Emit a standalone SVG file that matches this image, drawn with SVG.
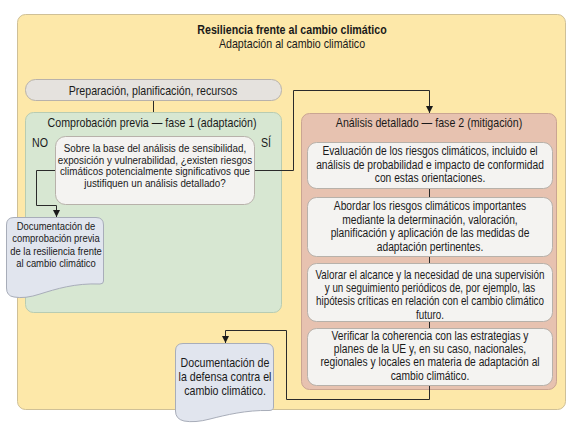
<svg xmlns="http://www.w3.org/2000/svg" width="585" height="439" viewBox="0 0 585 439">
<defs>
<style>
text{font-family:"Liberation Sans",Arial,sans-serif;fill:#1a1a1a;text-anchor:middle;}
.t13{font-size:13px;}
.t12{font-size:12px;}
.t125{font-size:12.5px;}
.t115{font-size:11.5px;}
.b{font-weight:bold;}
.box{fill:#f4f3f1;stroke:#b7b1aa;stroke-width:1;}
.doc{fill:#e1e5ee;stroke:#a8adb9;stroke-width:1;}
.conn{fill:none;stroke:#2a2a2a;stroke-width:1;}
</style>
<marker id="arr" viewBox="0 0 10 10" refX="10" refY="5" markerWidth="7" markerHeight="7" markerUnits="userSpaceOnUse" orient="auto">
<path d="M0,0 L10,5 L0,10 Z" fill="#1a1a1a"/>
</marker>
</defs>
<rect width="585" height="439" fill="#ffffff"/>
<g id="outer">
<rect x="17.5" y="14.5" width="548" height="395" rx="8" fill="#fde8a9" stroke="#cfc097"/>
<g transform="translate(292,0) scale(0.82,1)">
<text class="t13 b" x="0" y="34.5">Resiliencia frente al cambio climático</text>
<text class="t13" x="0" y="48.5">Adaptación al cambio climático</text>
</g>
</g>
<g id="preparacion">
<rect x="25.5" y="79.5" width="256" height="21" rx="10" fill="#e5e2de" stroke="#b8b2ab"/>
<g transform="translate(153,0) scale(0.82,1)">
<text class="t13" x="0" y="95">Preparación, planificación, recursos</text>
</g>
</g>
<g id="fase1">
<rect x="25.5" y="112.5" width="256" height="200" rx="8" fill="#d7e7d2" stroke="#b8ccb2"/>
<g transform="translate(152,0) scale(0.82,1)">
<text class="t13" x="0" y="127">Comprobación previa — fase 1 (adaptación)</text>
</g>
<g transform="translate(40,0) scale(0.82,1)">
<text class="t13" x="0" y="147">NO</text>
</g>
<g transform="translate(266,0) scale(0.82,1)">
<text class="t13" x="0" y="147">SÍ</text>
</g>
</g>
<g id="pregunta">
<rect x="55.5" y="136.5" width="199" height="68" rx="10" class="box"/>
<g transform="translate(155,0) scale(0.856,1)">
<text class="t115" x="0" y="152">Sobre la base del análisis de sensibilidad,</text>
<text class="t115" x="0" y="163.7">exposición y vulnerabilidad, ¿existen riesgos</text>
<text class="t115" x="0" y="175.3">climáticos potencialmente significativos que</text>
<text class="t115" x="0" y="187">justifiquen un análisis detallado?</text>
</g>
</g>
<g id="doc1">
<path class="doc" d="M6.5,225 Q6.5,217.5 14,217.5 L96,217.5 Q103.5,217.5 103.5,225 L103.5,281 Q103.5,284 100,284 C75,283 56,289 40,294 Q25,299 14,297 Q6.5,296 6.5,288 Z"/>
<g transform="translate(56,0) scale(0.82,1)">
<text class="t115" x="0" y="230">Documentación de</text>
<text class="t115" x="0" y="242.5">comprobación previa</text>
<text class="t115" x="0" y="255">de la resiliencia frente</text>
<text class="t115" x="0" y="267.5">al cambio climático</text>
</g>
</g>
<g id="fase2">
<rect x="301.5" y="113.5" width="255" height="276" rx="8" fill="#e7c2b0" stroke="#caa592"/>
<g transform="translate(429,0) scale(0.82,1)">
<text class="t13" x="0" y="127">Análisis detallado — fase 2 (mitigación)</text>
</g>
</g>
<g id="paso1">
<rect x="307.5" y="142.5" width="245" height="46" rx="9" class="box"/>
<g transform="translate(430,0) scale(0.82,1)">
<text class="t125" x="0" y="155.5">Evaluación de los riesgos climáticos, incluido el</text>
<text class="t125" x="0" y="169">análisis de probabilidad e impacto de conformidad</text>
<text class="t125" x="0" y="182.5">con estas orientaciones.</text>
</g>
</g>
<g id="paso2">
<rect x="307.5" y="197.5" width="245" height="59" rx="9" class="box"/>
<g transform="translate(430,0) scale(0.82,1)">
<text class="t125" x="0" y="210.5">Abordar los riesgos climáticos importantes</text>
<text class="t125" x="0" y="224">mediante la determinación, valoración,</text>
<text class="t125" x="0" y="237.5">planificación y aplicación de las medidas de</text>
<text class="t125" x="0" y="251">adaptación pertinentes.</text>
</g>
</g>
<g id="paso3">
<rect x="307.5" y="263.5" width="245" height="58" rx="9" class="box"/>
<g transform="translate(430,0) scale(0.82,1)">
<text class="t12" x="0" y="279">Valorar el alcance y la necesidad de una supervisión</text>
<text class="t12" x="0" y="292.5">y un seguimiento periódicos de, por ejemplo, las</text>
<text class="t12" x="0" y="305.5">hipótesis críticas en relación con el cambio climático</text>
<text class="t12" x="0" y="319">futuro.</text>
</g>
</g>
<g id="paso4">
<rect x="307.5" y="328.5" width="245" height="57" rx="9" class="box"/>
<g transform="translate(430,0) scale(0.82,1)">
<text class="t125" x="0" y="340.5">Verificar la coherencia con las estrategias y</text>
<text class="t125" x="0" y="353.5">planes de la UE y, en su caso, nacionales,</text>
<text class="t125" x="0" y="366.5">regionales y locales en materia de adaptación al</text>
<text class="t125" x="0" y="380">cambio climático.</text>
</g>
</g>
<g id="doc2">
<path class="doc" d="M175.5,351 Q175.5,343.5 183,343.5 L266,343.5 Q273.5,343.5 273.5,351 L273.5,407 Q273.5,410.5 269,410.5 C246,410 226,415 210,419 Q195,423 184,421 Q175.5,419 175.5,411 Z"/>
<g transform="translate(225,0) scale(0.82,1)">
<text class="t13" x="0" y="367">Documentación de</text>
<text class="t13" x="0" y="381">la defensa contra el</text>
<text class="t13" x="0" y="395">cambio climático.</text>
</g>
</g>
<g id="connectors">
<path class="conn" d="M153.5,101 L153.5,112"/>
<path class="conn" d="M55,170.5 L36.5,170.5 L36.5,205.5 L56.5,205.5 L56.5,217" marker-end="url(#arr)"/>
<path class="conn" d="M255,170.5 L293.5,170.5 L293.5,90.5 L429.5,90.5 L429.5,113" marker-end="url(#arr)"/>
<path class="conn" d="M429.5,189 L429.5,197"/>
<path class="conn" d="M429.5,257 L429.5,263"/>
<path class="conn" d="M429.5,322 L429.5,328"/>
<path class="conn" d="M429.5,386 L429.5,399.5 L286.5,399.5 L286.5,330.5 L225.5,330.5 L225.5,343" marker-end="url(#arr)"/>
</g>
</svg>
